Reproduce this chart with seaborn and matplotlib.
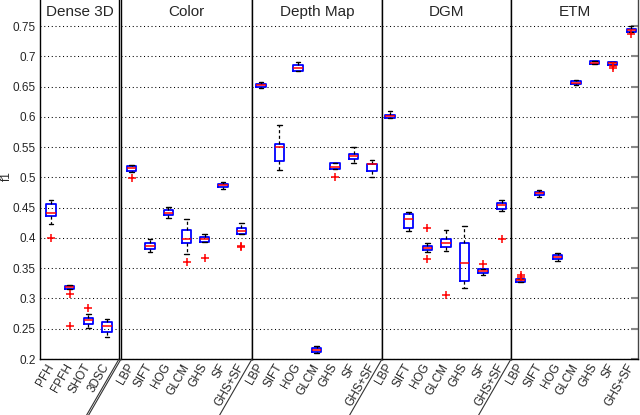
import numpy as np
import pandas as pd
import matplotlib
matplotlib.use("Agg")
import matplotlib.pyplot as plt
import matplotlib.transforms as mtransforms
from matplotlib.lines import Line2D
import seaborn as sns

# ---------------- data ----------------
panels = ["Dense 3D", "Color", "Depth Map", "DGM", "ETM"]
dense_features = ["PFH", "FPFH", "SHOT", "3DSC"]
image_features = ["LBP", "SIFT", "HOG", "GLCM", "GHS", "SF", "GHS+SF"]

# box statistics, order: Dense 3D (4), Color (7), Depth Map (7), DGM (7), ETM (7)
whisker_low = [0.4226, 0.3151, 0.2520, 0.2356,
               0.5090, 0.3771, 0.4330, 0.3727, 0.3935, 0.4805, 0.4072,
               0.6474, 0.5116, 0.6760, 0.2093, 0.5132, 0.5232, 0.5000,
               0.5980, 0.4111, 0.3771, 0.3787, 0.3173, 0.3382, 0.4445,
               0.3277, 0.4670, 0.3612, 0.6520, 0.6868, 0.6863, 0.7401]
q1 = [0.4363, 0.3151, 0.2576, 0.2450,
      0.5104, 0.3820, 0.4374, 0.3919, 0.3935, 0.4838, 0.4072,
      0.6500, 0.5277, 0.6760, 0.2115, 0.5132, 0.5303, 0.5099,
      0.5982, 0.4171, 0.3798, 0.3853, 0.3283, 0.3414, 0.4478,
      0.3277, 0.4707, 0.3656, 0.6540, 0.6868, 0.6863, 0.7401]
median = [0.4418, 0.3190, 0.2647, 0.2537,
          0.5150, 0.3864, 0.4418, 0.3974, 0.3985, 0.4870, 0.4122,
          0.6525, 0.5497, 0.6805, 0.2148, 0.5165, 0.5347, 0.5215,
          0.6010, 0.4308, 0.3831, 0.3908, 0.3584, 0.3453, 0.4544,
          0.3300, 0.4734, 0.3683, 0.6565, 0.6896, 0.6885, 0.7430]
q3 = [0.4555, 0.3212, 0.2685, 0.2609,
      0.5187, 0.3919, 0.4456, 0.4138, 0.4007, 0.4894, 0.4160,
      0.6545, 0.5558, 0.6849, 0.2175, 0.5237, 0.5386, 0.5215,
      0.6038, 0.4401, 0.3864, 0.3974, 0.3924, 0.3486, 0.4577,
      0.3321, 0.4763, 0.3710, 0.6590, 0.6924, 0.6907, 0.7456]
whisker_high = [0.4620, 0.3220, 0.2746, 0.2663,
                0.5200, 0.3974, 0.4511, 0.4308, 0.4072, 0.4927, 0.4248,
                0.6570, 0.5867, 0.6899, 0.2208, 0.5237, 0.5500, 0.5281,
                0.6104, 0.4429, 0.3919, 0.4138, 0.4198, 0.3486, 0.4620,
                0.3321, 0.4790, 0.3743, 0.6610, 0.6924, 0.6907, 0.7500]

# outliers (red "+")
outlier_panel = ["Dense 3D", "Dense 3D", "Dense 3D", "Dense 3D",
                 "Color", "Color", "Color", "Color", "Color",
                 "Depth Map",
                 "DGM", "DGM", "DGM", "DGM", "DGM",
                 "ETM", "ETM", "ETM", "ETM", "ETM"]
outlier_feature = ["PFH", "FPFH", "FPFH", "SHOT",
                   "LBP", "GLCM", "GHS", "GHS+SF", "GHS+SF",
                   "GHS",
                   "HOG", "HOG", "GLCM", "SF", "GHS+SF",
                   "LBP", "LBP", "SF", "SF", "GHS+SF"]
outlier_value = [0.4001, 0.3070, 0.2537, 0.2844,
                 0.4985, 0.3595, 0.3672, 0.3864, 0.3842,
                 0.5000,
                 0.4166, 0.3656, 0.3064, 0.3568, 0.3974,
                 0.3393, 0.3354, 0.6838, 0.6810, 0.7373]

ytick_values = [0.2, 0.25, 0.3, 0.35, 0.4, 0.45, 0.5, 0.55, 0.6, 0.65, 0.7, 0.75]
ytick_labels = ["0.2", "0.25", "0.3", "0.35", "0.4", "0.45", "0.5", "0.55",
                "0.6", "0.65", "0.7", "0.75"]
y_label = "f1"

# ---------------- tables ----------------
box_panel, box_feature = [], []
for p in panels:
    feats = dense_features if p == "Dense 3D" else image_features
    for f in feats:
        box_panel.append(p)
        box_feature.append(f)

rows = []
for i, (p, f) in enumerate(zip(box_panel, box_feature)):
    for v in (whisker_low[i], q1[i], median[i], q3[i], whisker_high[i]):
        rows.append({"panel": p, "feature": f, "value": v})
box_df = pd.DataFrame(rows)
out_df = pd.DataFrame({"panel": outlier_panel, "feature": outlier_feature,
                       "value": outlier_value})

# ---------------- style ----------------
sns.set_theme(style="white")
plt.rcParams["font.family"] = ["Liberation Sans", "DejaVu Sans"]

W, H = 640, 415
fig = plt.figure(figsize=(6.4, 4.15), dpi=100)

# panel extents in pixels (left, right); bottom at 359 px, top at figure top
panel_px = [(40, 119), (121, 252), (252, 382), (382, 511), (511, 638)]
bottom_px = 359
panel_xlim = [(-0.59, 3.64), (-0.586, 6.586), (-0.486, 6.54), (-0.43, 6.5), (-0.527, 6.37)]
ylim = (0.2, 0.793)

axes = []
for k, p in enumerate(panels):
    l, r = panel_px[k]
    ax = fig.add_axes([l / W, 1 - bottom_px / H, (r - l) / W, bottom_px / H])
    axes.append(ax)
    feats = dense_features if p == "Dense 3D" else image_features
    sub = box_df[box_df["panel"] == p]
    sns.boxplot(data=sub, x="feature", y="value", order=feats, ax=ax,
                whis=(0, 100), width=0.5, fill=False, linewidth=1.1,
                showfliers=False,
                boxprops=dict(color="#0000ff", linewidth=1.3),
                medianprops=dict(color="#ff0000", linewidth=1.1),
                whiskerprops=dict(color="black", linestyle=(0, (2.5, 2)), linewidth=0.9),
                capprops=dict(color="black", linewidth=1.0))
    osub = out_df[out_df["panel"] == p]
    if len(osub):
        sns.stripplot(data=osub, x="feature", y="value", order=feats, ax=ax,
                      jitter=False, marker="+", color="#ff0000", size=6,
                      linewidth=1.1)

    ax.set_xlim(*panel_xlim[k])
    ax.set_ylim(*ylim)
    ax.set_xlabel("")
    ax.set_ylabel("")
    ax.set_yticks(ytick_values)
    ax.set_axisbelow(True)
    ax.yaxis.grid(True, color="black", linestyle=(0, (1, 2.6)), linewidth=0.75)
    ax.xaxis.grid(False)

    ax.set_xticks(range(len(feats)))
    ax.set_xticklabels(feats)
    ax.tick_params(axis="x", length=0, pad=4, labelsize=8.5, bottom=False)
    for lbl in ax.get_xticklabels():
        lbl.set_rotation(60)
        lbl.set_ha("right")
        lbl.set_va("center")
        lbl.set_rotation_mode("anchor")

    if k == 0:
        ax.set_yticklabels(ytick_labels)
        ax.tick_params(axis="y", length=0, pad=3, labelsize=8.5, left=False)
    else:
        ax.tick_params(axis="y", left=False, labelleft=False, length=0)
    if k == len(panels) - 1:
        ax.tick_params(axis="y", right=True, direction="in", length=5,
                       width=1.5, color="#888888", labelright=False)

    for side in ("left", "right", "bottom"):
        ax.spines[side].set_visible(True)
        ax.spines[side].set_color("black")
        ax.spines[side].set_linewidth(1.0)
    ax.spines["top"].set_visible(False)
    if k == len(panels) - 1:
        ax.spines["right"].set_color("#444444")

    trans = mtransforms.blended_transform_factory(ax.transAxes, ax.transData)
    ax.text(0.5, 0.773, p, transform=trans, ha="center", va="center", fontsize=11)

# y-axis label
fig.text(7 / W, 1 - 176 / H, y_label, rotation=90, ha="center", va="center",
         fontsize=8.5)

# slanted divider continuations below the axes
div_x = [panel_px[0][1], panel_px[1][0], panel_px[1][1], panel_px[2][1], panel_px[3][1]]
for x0 in div_x:
    y0, y1 = bottom_px, H + 2
    x1 = x0 - np.tan(np.radians(30)) * (y1 - y0)
    fig.add_artist(Line2D([x0 / W, x1 / W], [1 - y0 / H, 1 - y1 / H],
                          transform=fig.transFigure, color="#333333",
                          linewidth=0.8, clip_on=False))

fig.savefig("out.png", dpi=100)
